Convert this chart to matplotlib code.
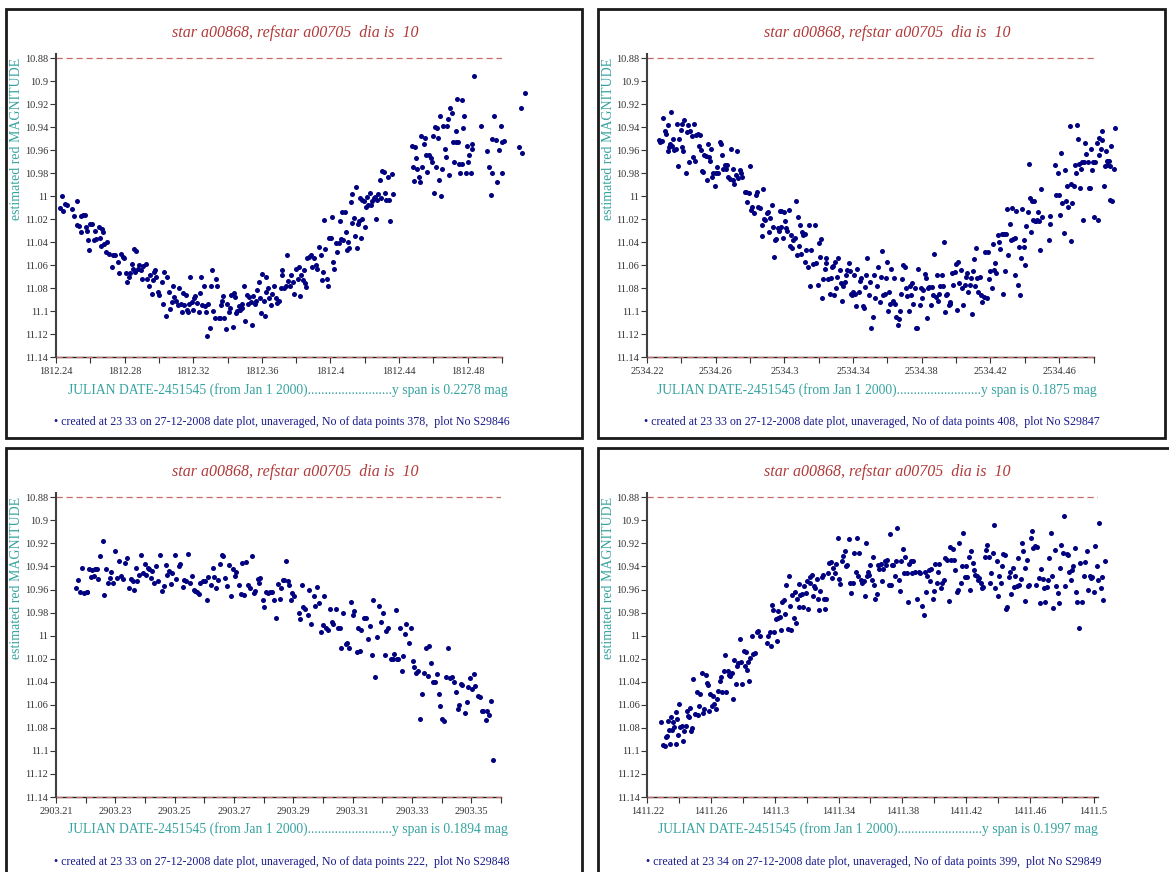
import numpy as np
import matplotlib
matplotlib.use('Agg')
import matplotlib.pyplot as plt
from matplotlib.patches import Rectangle
from matplotlib.ticker import FixedLocator, FuncFormatter

plt.rcParams['font.family'] = ['Liberation Serif', 'DejaVu Serif']

W, H = 1169, 872

# light curves: (days after first tick, estimated red magnitude)
t0_1 = 1812.24
p1 = [
    (.0035, 11.000), (.0023, 11.010), (.0043, 11.013), (.0054, 11.007), (.0064, 11.008), (.0091, 11.011), (.0107, 11.017), (.0122, 11.004), (.0120, 11.025), (.0136, 11.026),
    (.0146, 11.017), (.0155, 11.016), (.0169, 11.016), (.0146, 11.031), (.0175, 11.027), (.0181, 11.030), (.0188, 11.038), (.0194, 11.047), (.0198, 11.024), (.0210, 11.024),
    (.0219, 11.038), (.0229, 11.030), (.0233, 11.037), (.0249, 11.027), (.0256, 11.036), (.0268, 11.029), (.0276, 11.031), (.0262, 11.043), (.0282, 11.042), (.0295, 11.040),
    (.0291, 11.049), (.0311, 11.050), (.0324, 11.062), (.0330, 11.051), (.0346, 11.051), (.0361, 11.057), (.0369, 11.067), (.0379, 11.050), (.0388, 11.053), (.0398, 11.054),
    (.0408, 11.067), (.0414, 11.075), (.0423, 11.070), (.0431, 11.067), (.0443, 11.059), (.0450, 11.063), (.0456, 11.046), (.0466, 11.048), (.0460, 11.066), (.0476, 11.063),
    (.0485, 11.060), (.0495, 11.064), (.0501, 11.072), (.0509, 11.061), (.0524, 11.059), (.0528, 11.072), (.0540, 11.078), (.0550, 11.069), (.0557, 11.085), (.0563, 11.073),
    (.0573, 11.066), (.0579, 11.064), (.0583, 11.070), (.0592, 11.083), (.0602, 11.086), (.0617, 11.075), (.0625, 11.094), (.0631, 11.066), (.0641, 11.104), (.0645, 11.070),
    (.0656, 11.083), (.0664, 11.098), (.0676, 11.092), (.0683, 11.078), (.0689, 11.088), (.0699, 11.091), (.0709, 11.095), (.0718, 11.080), (.0728, 11.094), (.0734, 11.101),
    (.0742, 11.084), (.0748, 11.095), (.0757, 11.086), (.0763, 11.099), (.0771, 11.101), (.0777, 11.094), (.0784, 11.070), (.0792, 11.092), (.0800, 11.099), (.0806, 11.089),
    (.0812, 11.087), (.0821, 11.093), (.0831, 11.101), (.0839, 11.084), (.0847, 11.070), (.0854, 11.095), (.0860, 11.078), (.0868, 11.096), (.0874, 11.101), (.0880, 11.122),
    (.0887, 11.094), (.0897, 11.115), (.0903, 11.078), (.0909, 11.064), (.0917, 11.100), (.0924, 11.106), (.0932, 11.072), (.0940, 11.078), (.0948, 11.106), (.0955, 11.106),
    (.0961, 11.095), (.0965, 11.091), (.0971, 11.087), (.0981, 11.106), (.0990, 11.116), (.0994, 11.094), (.1006, 11.101), (.1014, 11.097), (.1019, 11.086), (.1029, 11.114),
    (.1035, 11.084), (.1045, 11.088), (.1049, 11.102), (.1054, 11.100), (.1064, 11.096), (.1072, 11.099), (.1082, 11.097), (.1087, 11.094), (.1097, 11.078), (.1103, 11.109),
    (.1111, 11.086), (.1117, 11.094), (.1126, 11.088), (.1136, 11.092), (.1142, 11.112), (.1150, 11.087), (.1159, 11.094), (.1165, 11.091), (.1171, 11.082), (.1181, 11.075),
    (.1188, 11.089), (.1194, 11.102), (.1200, 11.068), (.1210, 11.091), (.1217, 11.104), (.1223, 11.083), (.1227, 11.070), (.1237, 11.080), (.1243, 11.089), (.1252, 11.095),
    (.1262, 11.085), (.1272, 11.078), (.1282, 11.089), (.1291, 11.093), (.1301, 11.091), (.1311, 11.080), (.1317, 11.069), (.1320, 11.064), (.1330, 11.080), (.1340, 11.078),
    (.1348, 11.051), (.1355, 11.074), (.1363, 11.078), (.1369, 11.069), (.1379, 11.075), (.1388, 11.085), (.1398, 11.063), (.1408, 11.072), (.1414, 11.062), (.1421, 11.087),
    (.1431, 11.069), (.1437, 11.073), (.1447, 11.064), (.1452, 11.076), (.1460, 11.079), (.1466, 11.054), (.1476, 11.053), (.1485, 11.051), (.1495, 11.062), (.1505, 11.054),
    (.1515, 11.060), (.1524, 11.063), (.1534, 11.044), (.1544, 11.051), (.1553, 11.073), (.1557, 11.066), (.1563, 11.021), (.1569, 11.046), (.1577, 11.072), (.1586, 11.078),
    (.1592, 11.036), (.1602, 11.036), (.1608, 11.018), (.1616, 11.057), (.1623, 11.063), (.1631, 11.041), (.1641, 11.049), (.1647, 11.041), (.1654, 11.022), (.1660, 11.037),
    (.1666, 11.014), (.1674, 11.038), (.1682, 11.014), (.1689, 11.031), (.1699, 11.047), (.1705, 11.040), (.1709, 11.045), (.1717, 11.005), (.1724, 11.023), (.1728, 10.998),
    (.1738, 11.019), (.1742, 11.035), (.1748, 10.992), (.1753, 11.045), (.1759, 11.024), (.1767, 11.022), (.1773, 11.002), (.1777, 11.036), (.1783, 11.020), (.1786, 11.003),
    (.1796, 11.004), (.1802, 11.027), (.1806, 11.009), (.1812, 11.001), (.1821, 11.008), (.1829, 10.997), (.1839, 11.008), (.1845, 11.004), (.1854, 11.002), (.1860, 11.001),
    (.1868, 11.020), (.1874, 11.003), (.1880, 10.998), (.1887, 10.986), (.1893, 11.002), (.1903, 10.978), (.1913, 10.979), (.1918, 10.997), (.1926, 11.003), (.1934, 10.983),
    (.1942, 11.003), (.1946, 11.022), (.1957, 10.981), (.1965, 10.998),
    (.2074, 10.956), (.2082, 10.975), (.2087, 10.987), (.2093, 10.957), (.2101, 10.967), (.2107, 10.976), (.2117, 10.983), (.2122, 10.988), (.2128, 10.948), (.2136, 10.975),
    (.2144, 10.955), (.2151, 10.949), (.2159, 10.964), (.2165, 10.979), (.2175, 10.964), (.2184, 10.967), (.2190, 10.970), (.2198, 10.948), (.2206, 10.997), (.2210, 10.940),
    (.2214, 10.975), (.2223, 10.941), (.2229, 10.949), (.2233, 10.986), (.2239, 10.930), (.2247, 11.000), (.2252, 10.976), (.2258, 10.939), (.2268, 10.959), (.2272, 10.966),
    (.2278, 10.939), (.2287, 10.933), (.2291, 10.982), (.2297, 10.923), (.2307, 10.928), (.2315, 10.953), (.2320, 10.970), (.2330, 10.943), (.2334, 10.953), (.2340, 10.915),
    (.2346, 10.953), (.2350, 10.972), (.2355, 10.980), (.2365, 10.916), (.2369, 10.972), (.2373, 10.941), (.2379, 10.930), (.2388, 10.980), (.2398, 10.956), (.2404, 10.970),
    (.2408, 10.964), (.2417, 10.980), (.2423, 10.959), (.2427, 10.955), (.2437, 10.895), (.2476, 10.939), (.2515, 10.961), (.2524, 10.975), (.2534, 10.999), (.2540, 10.950),
    (.2544, 10.980), (.2553, 10.930), (.2563, 10.951), (.2573, 10.988), (.2583, 10.960), (.2592, 10.939), (.2598, 10.953), (.2602, 10.980), (.2610, 10.952),
    (.2700, 10.957), (.2711, 10.923), (.2717, 10.962), (.2735, 10.910),
]

t0_2 = 2534.22
p2 = [
    (.0070, 10.951), (.0076, 10.953), (.0085, 10.952), (.0095, 10.932), (.0105, 10.943), (.0110, 10.946), (.0120, 10.938), (.0124, 10.961), (.0128, 10.957), (.0134, 10.955),
    (.0140, 10.927), (.0147, 10.956), (.0153, 10.950), (.0159, 10.960), (.0167, 10.959), (.0176, 10.937), (.0182, 10.974), (.0188, 10.950), (.0198, 10.942), (.0202, 10.957),
    (.0205, 10.937), (.0211, 10.961), (.0217, 10.934), (.0225, 10.980), (.0233, 10.944), (.0236, 10.938), (.0244, 10.970), (.0250, 10.943), (.0260, 10.948), (.0269, 10.966),
    (.0275, 10.937), (.0279, 10.969), (.0285, 10.947), (.0295, 10.946), (.0302, 10.956), (.0308, 10.947), (.0314, 10.960), (.0322, 10.978), (.0328, 10.979), (.0333, 10.964),
    (.0341, 10.965), (.0347, 10.986), (.0353, 10.955), (.0360, 10.966), (.0366, 10.969), (.0372, 10.959), (.0380, 10.983), (.0386, 10.980), (.0395, 10.991), (.0399, 10.980),
    (.0405, 10.975), (.0415, 10.980), (.0424, 10.953), (.0430, 10.955), (.0438, 10.964), (.0444, 10.976), (.0453, 10.973), (.0459, 10.976), (.0467, 10.973), (.0473, 10.983),
    (.0483, 10.985), (.0492, 10.959), (.0498, 10.976), (.0502, 10.986), (.0508, 10.989), (.0516, 10.982), (.0525, 10.961), (.0531, 10.984), (.0541, 10.977), (.0550, 10.980),
    (.0556, 10.983), (.0570, 10.996), (.0579, 10.996), (.0585, 11.005), (.0593, 10.997), (.0599, 10.974), (.0605, 11.012), (.0612, 11.009), (.0624, 11.015), (.0632, 10.999),
    (.0640, 10.996), (.0647, 11.009), (.0657, 11.010), (.0667, 11.025), (.0671, 11.035), (.0676, 10.994), (.0682, 11.020), (.0690, 11.021), (.0698, 11.015), (.0705, 11.014),
    (.0711, 11.031), (.0715, 11.019), (.0725, 11.008), (.0731, 11.027), (.0740, 11.053), (.0748, 11.038), (.0754, 11.037), (.0760, 11.028), (.0767, 11.030), (.0773, 11.013),
    (.0779, 11.027), (.0783, 11.013), (.0793, 11.036), (.0798, 11.014), (.0806, 11.022), (.0812, 11.028), (.0818, 11.030), (.0826, 11.012), (.0831, 11.043), (.0837, 11.034),
    (.0845, 11.045), (.0853, 11.038), (.0860, 11.036), (.0870, 11.004), (.0876, 11.051), (.0880, 11.018), (.0886, 11.043), (.0890, 11.025), (.0899, 11.050), (.0903, 11.031),
    (.0911, 11.034), (.0919, 11.057), (.0922, 11.033), (.0928, 11.047), (.0938, 11.062), (.0944, 11.025), (.0948, 11.078), (.0957, 11.047), (.0967, 11.059), (.0977, 11.025),
    (.0986, 11.058), (.0996, 11.077), (.1000, 11.041), (.1008, 11.053), (.1012, 11.037), (.1021, 11.089), (.1027, 11.072), (.1035, 11.063), (.1041, 11.058), (.1045, 11.054),
    (.1054, 11.072), (.1064, 11.085), (.1070, 11.071), (.1078, 11.062), (.1083, 11.061), (.1089, 11.086), (.1093, 11.057), (.1099, 11.080), (.1105, 11.070), (.1112, 11.054),
    (.1122, 11.064), (.1132, 11.076), (.1138, 11.091), (.1143, 11.078), (.1151, 11.075), (.1159, 11.069), (.1167, 11.064), (.1174, 11.058), (.1180, 11.065), (.1186, 11.085),
    (.1194, 11.086), (.1200, 11.083), (.1205, 11.069), (.1213, 11.085), (.1219, 11.096), (.1225, 11.063), (.1233, 11.083), (.1240, 11.074), (.1248, 11.071), (.1256, 11.096),
    (.1264, 11.097), (.1267, 11.079), (.1275, 11.069), (.1283, 11.054), (.1291, 11.086), (.1298, 11.075), (.1306, 11.115), (.1314, 11.105), (.1322, 11.069), (.1329, 11.089),
    (.1337, 11.078), (.1345, 11.062), (.1355, 11.092), (.1360, 11.070), (.1368, 11.048), (.1374, 11.086), (.1384, 11.085), (.1390, 11.071), (.1395, 11.057), (.1403, 11.100),
    (.1409, 11.083), (.1417, 11.094), (.1422, 11.063), (.1430, 11.091), (.1438, 11.071), (.1446, 11.094), (.1452, 11.105), (.1461, 11.112), (.1467, 11.107), (.1473, 11.100),
    (.1481, 11.085), (.1486, 11.072), (.1492, 11.060), (.1500, 11.062), (.1508, 11.080), (.1516, 11.087), (.1523, 11.100), (.1529, 11.078), (.1535, 11.086), (.1543, 11.076),
    (.1550, 11.094), (.1558, 11.080), (.1568, 11.115), (.1574, 11.115), (.1578, 11.063), (.1587, 11.095), (.1593, 11.080), (.1601, 11.089), (.1609, 11.082), (.1616, 11.068),
    (.1622, 11.071), (.1630, 11.106), (.1636, 11.080), (.1643, 11.079), (.1651, 11.095), (.1659, 11.079), (.1667, 11.086), (.1674, 11.050), (.1680, 11.088), (.1686, 11.069),
    (.1694, 11.091), (.1702, 11.085), (.1709, 11.078), (.1717, 11.069), (.1725, 11.078), (.1729, 11.040), (.1736, 11.101), (.1742, 11.086), (.1748, 11.085), (.1756, 11.095),
    (.1762, 11.094), (.1767, 11.092), (.1775, 11.067), (.1783, 11.077), (.1791, 11.066), (.1798, 11.059), (.1804, 11.099), (.1810, 11.057), (.1818, 11.076), (.1826, 11.064),
    (.1833, 11.080), (.1841, 11.095), (.1849, 11.077), (.1857, 11.070), (.1864, 11.067), (.1872, 11.083), (.1878, 11.077), (.1884, 11.071), (.1891, 11.103), (.1897, 11.065),
    (.1903, 11.055), (.1911, 11.078), (.1917, 11.045), (.1922, 11.071), (.1930, 11.083), (.1938, 11.070), (.1946, 11.086), (.1953, 11.092), (.1961, 11.088), (.1969, 11.049),
    (.1977, 11.089), (.1984, 11.049), (.1994, 11.072), (.2000, 11.065), (.2008, 11.080), (.2014, 11.042), (.2019, 11.064), (.2027, 11.058), (.2035, 11.067), (.2043, 11.034),
    (.2050, 11.040), (.2058, 11.046), (.2066, 11.033), (.2072, 11.085), (.2078, 11.033), (.2085, 11.065), (.2091, 11.033), (.2097, 11.011), (.2105, 11.051), (.2112, 11.024),
    (.2120, 11.038), (.2126, 11.010), (.2132, 11.037), (.2140, 11.069), (.2145, 11.036), (.2151, 11.013), (.2159, 11.077), (.2167, 11.044), (.2172, 11.086), (.2178, 11.054),
    (.2186, 11.011), (.2194, 11.038), (.2198, 11.044), (.2202, 11.060), (.2209, 11.026), (.2217, 11.014), (.2223, 10.972), (.2231, 11.002), (.2236, 11.031), (.2242, 11.004),
    (.2248, 11.021), (.2256, 11.004), (.2260, 11.022), (.2266, 11.022), (.2271, 11.021), (.2275, 11.014), (.2281, 11.022), (.2287, 11.047), (.2295, 10.994), (.2298, 11.018),
    (.2339, 11.038), (.2345, 11.017), (.2349, 11.024), (.2376, 10.973), (.2384, 10.999), (.2391, 10.980), (.2397, 10.999), (.2405, 11.016), (.2411, 10.962), (.2419, 11.006),
    (.2426, 11.032), (.2434, 10.977), (.2442, 11.004), (.2446, 10.991), (.2454, 11.009), (.2461, 10.939), (.2467, 11.039), (.2469, 10.989), (.2477, 11.006), (.2485, 10.991),
    (.2492, 10.973), (.2500, 10.980), (.2504, 10.938), (.2508, 10.950), (.2516, 10.972), (.2519, 10.993), (.2527, 10.976), (.2535, 10.970), (.2539, 11.021), (.2547, 10.970),
    (.2552, 10.954), (.2558, 10.963), (.2566, 10.970), (.2572, 10.993), (.2579, 10.993), (.2585, 10.959), (.2593, 10.977), (.2599, 10.970), (.2605, 11.018),
    (.2610, 10.970), (.2618, 10.954), (.2630, 10.964), (.2634, 10.949), (.2649, 10.951), (.2643, 10.959), (.2651, 10.943), (.2663, 10.991), (.2669, 10.974), (.2672, 10.961),
    (.2680, 10.969), (.2681, 10.973), (.2692, 10.969), (.2694, 10.974), (.2698, 11.003), (.2703, 10.956), (.2709, 11.004), (.2719, 10.976), (.2725, 10.941), (.2624, 11.021),
]

t0_3 = 2903.21
p3 = [
    (.0066, 10.959), (.0073, 10.952), (.0081, 10.962), (.0088, 10.941), (.0095, 10.963), (.0103, 10.962), (.0106, 10.962), (.0112, 10.942), (.0118, 10.949), (.0123, 10.943),
    (.0129, 10.948), (.0133, 10.942), (.0138, 10.942), (.0142, 10.951), (.0150, 10.931), (.0157, 10.918), (.0162, 10.965), (.0168, 10.942), (.0176, 10.954), (.0181, 10.950),
    (.0187, 10.945), (.0193, 10.954), (.0200, 10.927), (.0207, 10.950), (.0213, 10.935), (.0218, 10.948), (.0226, 10.951), (.0232, 10.937), (.0239, 10.933), (.0245, 10.959),
    (.0252, 10.951), (.0258, 10.953), (.0262, 10.960), (.0269, 10.941), (.0274, 10.953), (.0279, 10.947), (.0288, 10.930), (.0293, 10.946), (.0299, 10.938), (.0305, 10.947),
    (.0310, 10.941), (.0315, 10.942), (.0319, 10.950), (.0324, 10.944), (.0330, 10.954), (.0338, 10.940), (.0344, 10.953), (.0351, 10.930), (.0357, 10.961), (.0364, 10.957),
    (.0370, 10.939), (.0375, 10.947), (.0380, 10.944), (.0386, 10.955), (.0391, 10.946), (.0400, 10.930), (.0405, 10.951), (.0413, 10.940), (.0419, 10.938), (.0428, 10.958),
    (.0433, 10.952), (.0439, 10.953), (.0445, 10.929), (.0452, 10.954), (.0458, 10.948), (.0465, 10.960), (.0469, 10.961), (.0476, 10.962), (.0482, 10.964), (.0487, 10.954),
    (.0495, 10.953), (.0503, 10.953), (.0508, 10.969), (.0514, 10.949), (.0521, 10.956), (.0529, 10.941), (.0534, 10.949), (.0541, 10.959), (.0545, 10.952), (.0553, 10.938),
    (.0559, 10.930), (.0563, 10.931), (.0570, 10.950), (.0577, 10.957), (.0584, 10.939), (.0590, 10.966), (.0598, 10.942), (.0604, 10.948), (.0608, 10.945), (.0616, 10.956),
    (.0622, 10.964), (.0627, 10.937), (.0633, 10.965), (.0640, 10.936), (.0646, 10.956), (.0653, 10.959), (.0660, 10.931), (.0666, 10.963), (.0671, 10.961), (.0680, 10.951),
    (.0684, 10.954), (.0689, 10.950), (.0697, 10.969), (.0702, 10.975), (.0709, 10.962), (.0715, 10.963), (.0721, 10.962), (.0729, 10.962), (.0736, 10.969), (.0743, 10.985),
    (.0747, 10.955), (.0754, 10.968), (.0758, 10.959), (.0765, 10.952), (.0769, 10.952), (.0774, 10.935), (.0781, 10.953), (.0786, 10.956), (.0792, 10.969), (.0796, 10.963),
    (.0803, 10.966), (.0818, 10.980), (.0823, 10.986), (.0829, 10.956), (.0834, 10.975), (.0839, 10.977), (.0848, 10.982), (.0853, 10.960), (.0861, 10.990), (.0868, 10.966),
    (.0872, 10.974), (.0879, 10.958), (.0887, 10.972), (.0893, 10.997), (.0899, 10.991), (.0904, 10.966), (.0909, 10.993), (.0917, 10.995), (.0924, 10.977), (.0930, 10.988),
    (.0935, 10.990), (.0944, 10.977), (.0951, 10.993), (.0956, 10.993), (.0962, 11.011), (.0969, 10.980), (.0977, 11.007), (.0982, 11.006), (.0989, 11.011), (.0993, 10.971),
    (.1000, 10.982), (.1005, 10.979), (.1013, 11.014), (.1019, 10.993), (.1025, 11.013), (.1029, 10.995), (.1038, 10.985), (.1046, 10.985), (.1052, 11.003), (.1058, 10.992),
    (.1064, 11.017), (.1069, 10.969), (.1076, 11.036), (.1081, 11.001), (.1089, 10.974), (.1094, 10.988), (.1101, 10.980), (.1108, 11.017), (.1113, 10.996), (.1119, 10.993),
    (.1130, 11.020), (.1137, 11.020), (.1141, 11.016), (.1145, 10.978), (.1148, 11.020), (.1152, 11.020), (.1158, 10.993), (.1165, 11.031), (.1170, 11.018), (.1177, 10.999),
    (.1181, 10.990), (.1190, 11.006), (.1195, 10.993), (.1202, 11.022), (.1206, 11.027), (.1213, 11.032), (.1220, 11.031), (.1226, 11.072), (.1233, 11.051), (.1240, 11.032),
    (.1246, 11.011), (.1253, 11.035), (.1258, 11.009), (.1264, 11.024), (.1271, 11.040), (.1278, 11.040), (.1284, 11.033), (.1290, 11.051), (.1296, 11.061), (.1301, 11.072),
    (.1307, 11.074), (.1316, 11.036), (.1323, 11.011), (.1327, 11.037), (.1334, 11.036), (.1340, 11.040), (.1347, 11.049), (.1354, 11.064), (.1358, 11.060), (.1365, 11.042),
    (.1370, 11.043), (.1379, 11.067), (.1385, 11.058), (.1390, 11.045), (.1397, 11.037), (.1402, 11.046), (.1408, 11.033), (.1414, 11.044), (.1421, 11.052), (.1428, 11.053),
    (.1435, 11.065), (.1441, 11.065), (.1448, 11.073), (.1452, 11.065), (.1458, 11.069), (.1466, 11.057), (.1473, 11.108),
]

t0_4 = 1411.22
p4 = [
    (.0086, 11.075), (.0101, 11.095), (.0111, 11.096), (.0115, 11.088), (.0121, 11.087), (.0128, 11.074), (.0136, 11.082), (.0142, 11.094), (.0149, 11.071), (.0157, 11.082),
    (.0163, 11.075), (.0170, 11.079), (.0178, 11.066), (.0182, 11.094), (.0188, 11.072), (.0195, 11.086), (.0201, 11.059), (.0207, 11.079), (.0216, 11.078), (.0226, 11.091),
    (.0232, 11.083), (.0241, 11.078), (.0247, 11.065), (.0253, 11.070), (.0262, 11.071), (.0268, 11.063), (.0274, 11.083), (.0283, 11.080), (.0289, 11.038), (.0299, 11.068),
    (.0310, 11.049), (.0316, 11.069), (.0325, 11.061), (.0331, 11.051), (.0341, 11.032), (.0350, 11.067), (.0358, 11.064), (.0366, 11.034), (.0375, 11.041), (.0383, 11.043),
    (.0389, 11.065), (.0396, 11.051), (.0404, 11.061), (.0415, 11.052), (.0421, 11.059), (.0429, 11.064), (.0436, 11.055), (.0446, 11.048), (.0454, 11.039), (.0463, 11.036),
    (.0471, 11.049), (.0480, 11.031), (.0488, 11.017), (.0494, 11.049), (.0505, 11.031), (.0513, 11.034), (.0521, 11.035), (.0530, 11.032), (.0538, 11.055), (.0547, 11.021),
    (.0555, 11.042), (.0563, 11.026), (.0572, 11.024), (.0580, 11.003), (.0588, 11.023), (.0597, 11.042), (.0605, 11.013), (.0614, 11.026), (.0622, 11.014), (.0626, 11.030),
    (.0634, 11.023), (.0639, 11.039), (.0647, 11.019), (.0655, 11.000), (.0666, 11.016), (.0676, 11.015), (.0687, 10.997), (.0697, 10.996), (.0706, 11.000), (.0752, 11.006),
    (.0760, 11.000), (.0771, 10.997), (.0777, 11.009), (.0781, 10.973), (.0789, 10.978), (.0798, 10.997), (.0806, 10.986), (.0812, 11.005), (.0817, 10.979), (.0823, 10.985),
    (.0831, 10.984), (.0840, 10.995), (.0848, 10.971), (.0856, 10.969), (.0865, 10.981), (.0873, 10.956), (.0882, 10.994), (.0890, 10.948), (.0896, 10.974), (.0903, 10.995),
    (.0911, 10.965), (.0919, 10.985), (.0928, 10.962), (.0936, 10.989), (.0942, 10.968), (.0949, 10.975), (.0955, 10.955), (.0961, 10.965), (.0970, 10.964), (.0978, 10.975),
    (.0986, 10.957), (.0995, 10.963), (.1003, 10.953), (.1011, 10.977), (.1018, 10.949), (.1024, 10.954), (.1032, 10.947), (.1039, 10.966), (.1047, 10.957), (.1053, 10.959),
    (.1062, 10.951), (.1070, 10.968), (.1078, 10.978), (.1085, 10.961), (.1095, 10.949), (.1101, 10.947), (.1108, 10.968), (.1116, 10.977), (.1124, 10.968), (.1133, 10.946),
    (.1141, 10.937), (.1150, 10.936), (.1158, 10.950), (.1168, 10.941), (.1179, 10.946), (.1187, 10.938), (.1196, 10.915), (.1204, 10.951), (.1212, 10.955), (.1221, 10.935),
    (.1229, 10.931), (.1238, 10.927), (.1246, 10.940), (.1254, 10.939), (.1263, 10.916), (.1271, 10.954), (.1279, 10.963), (.1288, 10.954), (.1300, 10.928), (.1309, 10.945),
    (.1315, 10.915), (.1321, 10.948), (.1330, 10.928), (.1338, 10.952), (.1346, 10.954), (.1357, 10.953), (.1367, 10.966), (.1372, 10.920), (.1378, 10.948), (.1384, 10.945),
    (.1393, 10.947), (.1399, 10.939), (.1409, 10.952), (.1418, 10.932), (.1424, 10.956), (.1430, 10.968), (.1439, 10.964), (.1447, 10.939), (.1455, 10.942), (.1464, 10.938),
    (.1472, 10.953), (.1480, 10.942), (.1489, 10.935), (.1497, 10.939), (.1506, 10.934), (.1514, 10.956), (.1522, 10.912), (.1531, 10.956), (.1535, 10.939), (.1543, 10.939),
    (.1552, 10.948), (.1560, 10.935), (.1568, 10.907), (.1577, 10.952), (.1585, 10.961), (.1594, 10.935), (.1602, 10.925), (.1610, 10.946), (.1619, 10.932), (.1627, 10.946),
    (.1635, 10.971), (.1644, 10.938), (.1652, 10.935), (.1661, 10.946), (.1669, 10.935), (.1681, 10.945), (.1692, 10.968), (.1702, 10.945), (.1713, 10.946), (.1723, 10.974),
    (.1734, 10.982), (.1740, 10.945), (.1748, 10.962), (.1757, 10.948), (.1765, 10.943), (.1774, 10.953), (.1782, 10.942), (.1790, 10.968), (.1799, 10.961), (.1807, 10.938),
    (.1816, 10.954), (.1824, 10.945), (.1832, 10.938), (.1841, 10.959), (.1849, 10.954), (.1860, 10.952), (.1870, 10.933), (.1880, 10.934), (.1891, 10.970), (.1899, 10.923),
    (.1908, 10.934), (.1916, 10.925), (.1924, 10.934), (.1933, 10.943), (.1941, 10.962), (.1950, 10.960), (.1958, 10.920), (.1966, 10.954), (.1975, 10.940), (.1983, 10.911),
    (.1991, 10.949), (.2000, 10.940), (.2008, 10.949), (.2017, 10.932), (.2025, 10.960), (.2033, 10.927), (.2042, 10.937), (.2050, 10.943), (.2058, 10.947), (.2067, 10.948),
    (.2075, 10.952), (.2084, 10.950), (.2092, 10.954), (.2100, 10.959), (.2109, 10.958), (.2117, 10.932), (.2125, 10.926), (.2134, 10.921), (.2142, 10.932), (.2151, 10.954),
    (.2159, 10.946), (.2167, 10.928), (.2176, 10.904), (.2184, 10.959), (.2192, 10.935), (.2201, 10.966), (.2209, 10.948), (.2218, 10.954), (.2226, 10.940), (.2234, 10.929),
    (.2243, 10.930), (.2251, 10.977), (.2259, 10.975), (.2268, 10.949), (.2276, 10.945), (.2285, 10.964), (.2293, 10.941), (.2301, 10.958), (.2310, 10.948), (.2318, 10.957),
    (.2326, 10.933), (.2335, 10.956), (.2343, 10.951), (.2352, 10.920), (.2360, 10.927), (.2368, 10.941), (.2373, 10.970), (.2381, 10.934), (.2389, 10.957), (.2398, 10.956),
    (.2406, 10.915), (.2414, 10.909), (.2423, 10.924), (.2431, 10.922), (.2440, 10.956), (.2448, 10.923), (.2456, 10.950), (.2465, 10.972), (.2473, 10.942), (.2481, 10.951),
    (.2490, 10.959), (.2498, 10.971), (.2507, 10.958), (.2515, 10.952), (.2523, 10.933), (.2532, 10.911), (.2540, 10.948), (.2548, 10.976), (.2557, 10.926), (.2565, 10.957),
    (.2574, 10.963), (.2582, 10.972), (.2590, 10.941), (.2599, 10.921), (.2607, 10.928), (.2615, 10.896), (.2624, 10.957), (.2632, 10.929), (.2641, 10.930), (.2649, 10.945),
    (.2657, 10.952), (.2666, 10.943), (.2674, 10.940), (.2682, 10.924), (.2691, 10.962), (.2699, 10.971), (.2708, 10.993), (.2718, 10.937), (.2728, 10.971), (.2739, 10.948),
    (.2749, 10.936), (.2758, 10.927), (.2766, 10.960), (.2775, 10.948), (.2783, 10.950), (.2791, 10.949), (.2802, 10.962), (.2812, 10.922), (.2823, 10.940), (.2829, 10.952),
    (.2837, 10.902), (.2846, 10.959), (.2854, 10.949), (.2862, 10.969), (.2871, 10.935),
]

spans = ['0.2278', '0.1875', '0.1894', '0.1997']
n_points = [378, 408, 222, 399]
plot_nos = ['S29846', 'S29847', 'S29848', 'S29849']
created = ['23 33', '23 33', '23 33', '23 34']
title = 'star a00868, refstar a00705  dia is  10'
y_ticks = [10.88, 10.90, 10.92, 10.94, 10.96, 10.98, 11.00, 11.02, 11.04, 11.06, 11.08, 11.10, 11.12, 11.14]

RED = '#b03a3a'
TEAL = '#35a3a0'
NAVY = '#000080'


def fx(px):
    return px / W


def fy(py):
    return 1 - py / H


# panel layout in pixels: frame box, axes box (x0, x1, y of 10.88, y of 11.14), text centres
panels = [
    dict(pts=p1, t0=t0_1, xend=1812.50, major=0.04, minor=0.02,
         frame=(6, 9, 582, 438), ax=(56, 502, 58.3, 357), tx=295, lx=288, fx=282, off=0),
    dict(pts=p2, t0=t0_2, xend=2534.48, major=0.04, minor=0.02,
         frame=(598, 9, 1165, 438), ax=(647, 1093.5, 58.3, 357), tx=887, lx=877, fx=872, off=0),
    dict(pts=p3, t0=t0_3, xend=2903.36, major=0.02, minor=0.01,
         frame=(6, 448, 582, 890), ax=(56, 501, 497.3, 797), tx=295, lx=288, fx=282, off=439.5),
    dict(pts=p4, t0=t0_4, xend=1411.503, major=0.04, minor=0.02,
         frame=(598, 448, 1185, 890), ax=(647.3, 1098.3, 497.3, 797), tx=887, lx=878, fx=874, off=439.5),
]

fig = plt.figure(figsize=(W / 100, H / 100), dpi=100)
fig.patch.set_facecolor('white')

fmt = FuncFormatter(lambda v, p: f'{round(v, 4):g}')

for i, pn in enumerate(panels):
    fl, ft, fr, fb = pn['frame']
    fig.patches.append(Rectangle((fx(fl), fy(fb)), fx(fr - fl), (fb - ft) / H,
                                 transform=fig.transFigure, fill=False,
                                 edgecolor='#1a1a1a', linewidth=2, clip_on=False))

    x0, x1, ytop, ybot = pn['ax']
    ppm = (ybot - ytop) / 0.26
    top_lim = 10.876
    ytop_ext = ytop - (10.88 - top_lim) * ppm
    ax = fig.add_axes([fx(x0), fy(ybot), fx(x1 - x0), (ybot - ytop_ext) / H])

    arr = np.array(pn['pts'])
    ax.scatter(pn['t0'] + arr[:, 0], arr[:, 1], s=13, color=NAVY,
               linewidths=0, clip_on=False, zorder=3)

    ax.set_xlim(pn['t0'], pn['xend'])
    ax.set_ylim(11.14, top_lim)

    nmaj = int(round((pn['xend'] - pn['t0']) / pn['major'])) + 1
    nmin = int(round((pn['xend'] - pn['t0']) / pn['minor'] + 0.2)) + 1
    ax.xaxis.set_major_locator(FixedLocator(np.round(pn['t0'] + pn['major'] * np.arange(nmaj), 4)))
    ax.xaxis.set_minor_locator(FixedLocator(np.round(pn['t0'] + pn['minor'] * np.arange(nmin), 4)))
    ax.xaxis.set_major_formatter(fmt)
    ax.yaxis.set_major_locator(FixedLocator(y_ticks))
    ax.yaxis.set_major_formatter(fmt)

    ax.tick_params(axis='both', which='both', direction='out', length=4, width=0.8,
                   colors='#333333', labelsize=7.5, pad=1.5)
    ax.tick_params(axis='x', which='major', pad=3)

    for s in ['top', 'right']:
        ax.spines[s].set_visible(False)
    ax.spines['left'].set_color('#404040')
    ax.spines['left'].set_linewidth(1.5)
    ax.spines['bottom'].set_color('#222222')
    ax.spines['bottom'].set_linewidth(1.0)

    ax.axhline(10.88, color='#c86a6a', linewidth=0.9, linestyle=(0, (5, 3)), zorder=2)
    ax.axhline(11.14, color='#c86a6a', linewidth=0.9, linestyle=(0, (5, 3)), zorder=4, clip_on=False)

    off = pn['off']
    fig.text(fx(pn['tx']), fy(33 + off), title, color=RED, fontsize=11.5,
             fontstyle='italic', ha='center', va='center')
    fig.text(fx(x0 - 39), fy(ytop), 'estimated red MAGNITUDE', color=TEAL,
             fontsize=10, rotation=90, ha='center', va='top')
    fig.text(fx(pn['lx']), fy(390 + off),
             'JULIAN DATE-2451545 (from Jan 1 2000)' + '.' * 25 + f'y span is {spans[i]} mag',
             color=TEAL, fontsize=9.8, ha='center', va='center')
    fig.text(fx(pn['fx']), fy(422 + off),
             f'\u2022 created at {created[i]} on 27-12-2008 date plot, unaveraged, '
             f'No of data points {n_points[i]},  plot No {plot_nos[i]}',
             color='#1a1a8a', fontsize=8.6, ha='center', va='center')

fig.savefig('out.png', dpi=100, facecolor='white')
